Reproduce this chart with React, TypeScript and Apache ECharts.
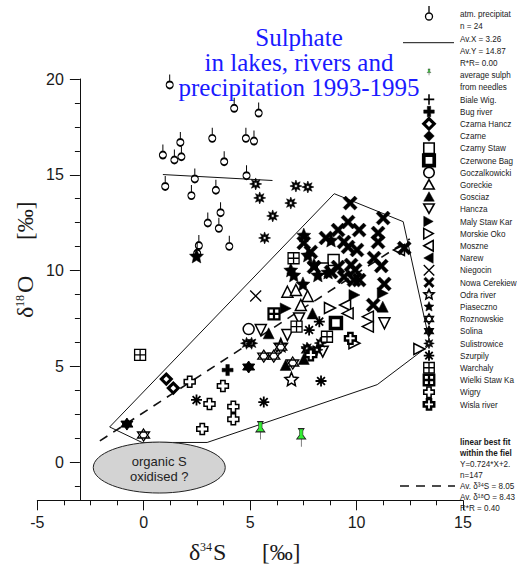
import React, { useEffect, useRef } from "react";
import * as echarts from "echarts";

// ---------------- data ----------------
const precipitation = [
  [1.22, 19.69], [4.25, 18.47], [5.4, 18.22], [1.72, 16.69], [3.22, 16.9], [4.8, 16.9],
  [5.18, 16.76], [0.9, 16.03], [1.44, 15.77], [1.77, 15.94], [3.78, 15.68], [2.4, 14.78],
  [4.83, 14.95], [1.01, 14.39], [2.24, 13.91], [3.39, 14.19], [3.61, 13.02], [3.01, 12.48],
  [3.53, 12.2], [2.59, 11.3], [4.02, 11.26], [2.51, 10.9],
];
const needles = [[5.48, 1.64], [7.4, 1.27]];
const bialeWig: number[][] = [];
const bugRiver = [[3.94, 4.8]];
const czarnaHancza = [[1.06, 4.33], [1.39, 3.86]];
const czarne: number[][] = [];
const czarnyStaw = [[8.92, 10.55], [8.41, 10.11]];
const czerwoneBagno = [[9.03, 7.26]];
const goczalkowickie = [[4.93, 6.94]];
const goreckie = [[6.75, 8.89], [7.15, 8.98], [7.7, 8.67], [7.38, 8.2]];
const gosciaz = [[5.87, 6.72], [6.67, 5.07], [7.93, 7.76], [7.52, 5.38], [11.23, 8.11]];
const hancza = [[5.5, 6.89], [6.75, 6.63], [7.3, 7.5], [8.41, 5.76], [11.31, 7.24]];
const malyStaw = [[6.67, 8.02], [9.9, 8.72], [11.23, 8.81]];
const morskieOko = [[8.75, 8.04], [12.95, 5.9], [9.9, 6.2]];
const moszne = [[9.46, 8.2], [9.58, 7.76], [10.53, 7.59], [10.53, 7.07], [11.99, 11.07]];
const narew: number[][] = [];
const niegocin = [[5.26, 8.67]];
const nowaCerekiew = [
  [9.7, 13.52], [11.25, 12.74], [9.6, 12.53], [10.12, 12.11], [11.01, 11.96], [9.13, 12.11],
  [7.52, 11.44], [8.56, 11.7], [9.41, 11.49], [10.02, 11.07], [11.01, 11.49], [10.82, 10.65],
  [11.16, 10.23], [11.3, 9.3], [9.93, 10.03], [10.12, 9.5], [10.78, 8.2], [8.8, 9.92],
  [9.13, 10.18], [9.74, 10.29], [9.6, 11.23], [7.85, 10.97], [8.0, 10.18], [9.41, 9.66],
  [9.88, 9.5], [12.24, 11.17],
];
const odraRiver = [[6.94, 4.33], [6.44, 6.11]];
const piaseczno = [
  [7.52, 11.85], [7.71, 10.81], [6.91, 10.03], [7.05, 9.77], [8.18, 9.77], [8.66, 9.92],
  [7.48, 9.3], [8.0, 10.29], [8.8, 11.59], [2.48, 10.76],
];
const roznowskie = [[5.64, 5.53], [6.11, 5.53], [6.44, 6.0], [7.0, 5.17], [7.71, 5.85], [-0.01, 1.41]];
const solina = [[4.93, 4.96], [-0.79, 1.98]];
const sulistrowice = [
  [5.26, 14.52], [5.45, 13.79], [7.15, 14.41], [7.71, 14.36], [6.91, 13.52], [6.06, 12.85],
  [5.68, 11.7], [4.83, 6.2], [5.07, 6.2], [8.14, 5.86], [8.3, 6.21], [7.67, 5.95],
];
const szurpily = [[2.48, 3.24], [5.64, 3.13], [8.33, 4.23], [8.25, 7.33], [7.77, 6.89]];
const warchaly = [[-0.17, 5.59], [7.04, 10.64], [7.18, 7.07], [8.61, 6.54]];
const wielkiStaw = [[6.12, 7.73]];
const wigry = [[2.16, 4.19], [3.72, 3.97], [3.09, 3.03], [4.21, 2.89], [4.21, 2.23], [2.75, 1.72]];
const wislaRiver = [[9.71, 6.46], [7.85, 5.59]];

const fieldPolygon = [
  [-1.6, 1.83], [8.95, 14.01], [12.19, 12.55], [13.46, 6.13], [10.97, 4.04],
  [2.98, 1.02], [-0.08, 1.02], [-1.6, 1.83],
];
const precipFit = [[0.9, 15.01], [6.05, 14.7]];
const fieldFit = [[-2.06, 1.1], [12.5, 11.65]];
const ellipseCenter = [[0.73, -0.29]];

const xLabelValues = [-5, 0, 5, 10, 15];
const yLabelValues = [0, 5, 10, 15, 20];
const yMinorValues = [-1.25, 1.25, 2.5, 3.75, 6.25, 7.5, 8.75, 11.25, 12.5, 13.75, 16.25, 17.5, 18.75];

// texts as far as they are visible in the reference (it cuts them at the right edge)
const precipLabel = "atm. precipitat";
const precipStats = ["n = 24", "Av.X = 3.26", "Av.Y = 14.87", "R*R= 0.00"];
const needleLabels = ["average sulph", "from needles"];
const fitHeader = ["linear best fit", "within the fiel"];
const fitStats = ["Y=0.724*X+2.", "n=147", "Av. δ³⁴S = 8.05", "Av. δ¹⁸O = 8.43", "R*R = 0.40"];

// ---------------- symbols ----------------
const SHAPES: Record<string, string> = {
  lolli: "M3.5,0 L3.5,7 M0,10.5 A3.5,3.5 0 1,0 7,10.5 A3.5,3.5 0 1,0 0,10.5 Z",
  pin: "M2.5,0 L7.5,0 L6.5,1.5 L6.5,5 L9,8 L1,8 L3.5,5 L3.5,1.5 Z M5,8 L5,14",
  plusThin: "M5,0 L5,10 M0,5 L10,5",
  plusThick: "M3.4,0 L6.6,0 L6.6,3.4 L10,3.4 L10,6.6 L6.6,6.6 L6.6,10 L3.4,10 L3.4,6.6 L0,6.6 L0,3.4 L3.4,3.4 Z",
  diamond: "M5,0 L10,5 L5,10 L0,5 Z",
  square: "M0,0 L10,0 L10,10 L0,10 Z",
  circle: "M0,5 A5,5 0 1,1 10,5 A5,5 0 1,1 0,5 Z",
  triUp: "M5,0 L10,9 L0,9 Z",
  triDown: "M0,0 L10,0 L5,9 Z",
  triRight: "M0,0 L9,5 L0,10 Z",
  triLeft: "M9,0 L0,5 L9,10 Z",
  xThin: "M0,0 L10,10 M10,0 L0,10",
  xThick: "M0,1.8 L1.8,0 L5,3.2 L8.2,0 L10,1.8 L6.8,5 L10,8.2 L8.2,10 L5,6.8 L1.8,10 L0,8.2 L3.2,5 Z",
  star: "M5,0 L6.35,3.15 L9.76,3.45 L7.2,5.75 L7.94,9.05 L5,7.35 L2.06,9.05 L2.8,5.75 L0.24,3.45 L3.65,3.15 Z",
  hexagram: "M5,0 L9.33,7.5 L0.67,7.5 Z M5,10 L0.67,2.5 L9.33,2.5 Z",
  burst:
    "M5,0 L5.96,2.69 L8.54,1.46 L7.31,4.04 L10,5 L7.31,5.96 L8.54,8.54 L5.96,7.31 L5,10 L4.04,7.31 L1.46,8.54 L2.69,5.96 L0,5 L2.69,4.04 L1.46,1.46 L4.04,2.69 Z M3.9,3.9 L3.9,6.1 L6.1,6.1 L6.1,3.9 Z",
  asterisk: "M5,0 L5,10 M0,5 L10,5 M1.46,1.46 L8.54,8.54 M8.54,1.46 L1.46,8.54",
  grid: "M0,0 L10,0 L10,10 L0,10 Z M5,0 L5,10 M0,5 L10,5",
  crossOpen: "M3,0 L7,0 L7,3 L10,3 L10,7 L7,7 L7,10 L3,10 L3,7 L0,7 L0,3 L3,3 Z",
};

Object.keys(SHAPES).forEach((k) => {
  echarts.graphic.registerShape("sym_" + k, echarts.graphic.extendPath(SHAPES[k], {}) as any);
});

const W = "#ffffff";
const B = "#000000";
const N = "none";

const LAKES: { name: string; label: string; shape: string; fill: string; lw: number; size: number; data: number[][] }[] = [
  { name: "Biale Wig.", label: "Biale Wig.", shape: "plusThin", fill: N, lw: 1.5, size: 11, data: bialeWig },
  { name: "Bug river", label: "Bug river", shape: "plusThick", fill: B, lw: 0.5, size: 11, data: bugRiver },
  { name: "Czarna Hancza", label: "Czarna Hancz", shape: "diamond", fill: W, lw: 3, size: 10, data: czarnaHancza },
  { name: "Czarne", label: "Czarne", shape: "diamond", fill: B, lw: 0.5, size: 11, data: czarne },
  { name: "Czarny Staw", label: "Czarny Staw", shape: "square", fill: W, lw: 1.5, size: 11, data: czarnyStaw },
  { name: "Czerwone Bagno", label: "Czerwone Bag", shape: "square", fill: W, lw: 3.5, size: 11, data: czerwoneBagno },
  { name: "Goczalkowickie", label: "Goczalkowicki", shape: "circle", fill: W, lw: 1.5, size: 11, data: goczalkowickie },
  { name: "Goreckie", label: "Goreckie", shape: "triUp", fill: W, lw: 1.5, size: 11, data: goreckie },
  { name: "Gosciaz", label: "Gosciaz", shape: "triUp", fill: B, lw: 0.5, size: 11, data: gosciaz },
  { name: "Hancza", label: "Hancza", shape: "triDown", fill: W, lw: 1.5, size: 11, data: hancza },
  { name: "Maly Staw Karkonoski", label: "Maly Staw Kar", shape: "triRight", fill: B, lw: 0.5, size: 11, data: malyStaw },
  { name: "Morskie Oko", label: "Morskie Oko", shape: "triRight", fill: W, lw: 1.5, size: 11, data: morskieOko },
  { name: "Moszne", label: "Moszne", shape: "triLeft", fill: W, lw: 1.5, size: 11, data: moszne },
  { name: "Narew", label: "Narew", shape: "triLeft", fill: B, lw: 0.5, size: 11, data: narew },
  { name: "Niegocin", label: "Niegocin", shape: "xThin", fill: N, lw: 1.3, size: 11, data: niegocin },
  { name: "Nowa Cerekiew", label: "Nowa Cerekiew", shape: "xThick", fill: B, lw: 0.5, size: 14, data: nowaCerekiew },
  { name: "Odra river", label: "Odra river", shape: "star", fill: W, lw: 1.5, size: 13, data: odraRiver },
  { name: "Piaseczno", label: "Piaseczno", shape: "star", fill: B, lw: 0.5, size: 14, data: piaseczno },
  { name: "Roznowskie", label: "Roznowskie", shape: "hexagram", fill: W, lw: 1.3, size: 12, data: roznowskie },
  { name: "Solina", label: "Solina", shape: "hexagram", fill: B, lw: 1, size: 12, data: solina },
  { name: "Sulistrowice", label: "Sulistrowice", shape: "burst", fill: B, lw: 0.6, size: 12, data: sulistrowice },
  { name: "Szurpily", label: "Szurpily", shape: "asterisk", fill: N, lw: 1.8, size: 11, data: szurpily },
  { name: "Warchaly", label: "Warchaly", shape: "grid", fill: W, lw: 1.3, size: 11, data: warchaly },
  { name: "Wielki Staw Karkonoski", label: "Wielki Staw Ka", shape: "grid", fill: W, lw: 2.2, size: 11, data: wielkiStaw },
  { name: "Wigry", label: "Wigry", shape: "crossOpen", fill: W, lw: 1.5, size: 11, data: wigry },
  { name: "Wisla river", label: "Wisla river", shape: "crossOpen", fill: W, lw: 2.3, size: 11, data: wislaRiver },
];

const SANS = "'Liberation Sans', Arial, sans-serif";
const SERIF = "'Liberation Serif', 'Times New Roman', serif";
const TXT = "#1a1a1a";

function buildOption() {
  const series: any[] = [];

  series.push({
    type: "line",
    data: fieldPolygon,
    symbol: "none",
    lineStyle: { color: "#111", width: 1 },
    silent: true,
    z: 1,
  });
  series.push({
    type: "line",
    data: fieldFit,
    symbol: "none",
    lineStyle: { color: "#111", width: 1.6, type: [9, 7] },
    silent: true,
    z: 1,
  });
  series.push({
    type: "line",
    data: precipFit,
    symbol: "none",
    lineStyle: { color: "#111", width: 1 },
    silent: true,
    z: 1,
  });
  series.push({
    type: "custom",
    data: ellipseCenter,
    silent: true,
    z: 2,
    renderItem: (params: any, api: any) => {
      const c = api.coord([api.value(0), api.value(1)]);
      const s = api.size([3.1, 1.33]);
      return {
        type: "group",
        children: [
          {
            type: "ellipse",
            shape: { cx: c[0], cy: c[1], rx: s[0], ry: s[1] },
            style: { fill: "#d3d3d3", stroke: "#222", lineWidth: 1 },
          },
          {
            type: "text",
            x: c[0],
            y: c[1] + 1,
            style: {
              text: "organic S\noxidised ?",
              align: "center",
              verticalAlign: "middle",
              fontSize: 13,
              lineHeight: 15,
              fontFamily: SANS,
              fill: "#222",
            },
          },
        ],
      };
    },
  });

  series.push({
    type: "scatter",
    name: "atm. precipitation",
    data: precipitation,
    symbol: "path://" + SHAPES.lolli,
    symbolSize: [7, 14],
    symbolOffset: [0, -3.5],
    itemStyle: { color: W, borderColor: B, borderWidth: 1.4, opacity: 1 },
    silent: true,
    z: 3,
  });
  series.push({
    type: "scatter",
    name: "average sulphate from needles",
    data: needles,
    symbol: "path://" + SHAPES.pin,
    symbolSize: [9, 18],
    itemStyle: { color: "#33ee33", borderColor: "#222", borderWidth: 0.8, opacity: 1 },
    silent: true,
    z: 3,
  });

  LAKES.forEach((l) => {
    series.push({
      type: "scatter",
      name: l.name,
      data: l.data,
      symbol: "path://" + SHAPES[l.shape],
      symbolSize: l.size,
      itemStyle: {
        color: l.fill === N ? "rgba(0,0,0,0)" : l.fill,
        borderColor: B,
        borderWidth: l.lw,
        opacity: 1,
      },
      silent: true,
      z: 4,
    });
  });

  // ---------- graphic: titles and legend ----------
  const g: any[] = [];
  g.push({
    type: "text",
    x: 299,
    y: 25,
    style: {
      text: "Sulphate\nin lakes, rivers and\nprecipitation 1993-1995",
      align: "center",
      verticalAlign: "top",
      fontSize: 25,
      lineHeight: 25,
      fontFamily: SERIF,
      fill: "#1a1aff",
    },
  });

  // x axis title
  const xt = [
    { t: "δ", x: 189, y: 552, fs: 24 },
    { t: "34", x: 200, y: 547, fs: 12 },
    { t: "S", x: 213, y: 552, fs: 24 },
    { t: "[‰]", x: 262, y: 552, fs: 23 },
  ];
  xt.forEach((e) =>
    g.push({
      type: "text",
      x: e.x,
      y: e.y,
      style: { text: e.t, fontSize: e.fs, fontFamily: SERIF, fill: TXT, align: "left", verticalAlign: "middle" },
    })
  );
  // y axis title (rotated)
  g.push({
    type: "group",
    x: 25,
    y: 318,
    rotation: Math.PI / 2,
    children: [
      { t: "δ", x: 0, y: 0, fs: 24 },
      { t: "18", x: 11, y: -5, fs: 12 },
      { t: "O", x: 25, y: 0, fs: 24 },
      { t: "[‰]", x: 78, y: 0, fs: 23 },
    ].map((e) => ({
      type: "text",
      x: e.x,
      y: e.y,
      style: { text: e.t, fontSize: e.fs, fontFamily: SERIF, fill: TXT, align: "left", verticalAlign: "middle" },
    })),
  });

  const LX = 429;
  const TX = 460;
  const rowY = (i: number) => 14 + i * 12.2;
  const legendText = (t: string, y: number, bold = false) => ({
    type: "text",
    x: TX,
    y,
    scaleX: 0.9,
    style: {
      text: t,
      fontSize: 9,
      fontWeight: bold ? "bold" : "normal",
      fontFamily: SANS,
      fill: TXT,
      align: "left",
      verticalAlign: "middle",
    },
  });

  // precipitation entry
  g.push({
    type: "sym_lolli",
    x: LX - 3.5,
    y: 16.5 - 10.5,
    style: { fill: W, stroke: B, lineWidth: 1.3 },
  });
  g.push(legendText(precipLabel, rowY(0)));
  precipStats.forEach((t, i) => g.push(legendText(t, rowY(1 + i))));
  g.push({ type: "line", shape: { x1: 403, y1: 42.7, x2: 454, y2: 42.7 }, style: { stroke: "#111", lineWidth: 1 } });
  // needles entry
  g.push({
    type: "sym_pin",
    x: LX - 2.2,
    y: 69,
    scaleX: 0.45,
    scaleY: 0.45,
    style: { fill: "#33ee33", stroke: "#222", lineWidth: 1 },
  });
  g.push(legendText(needleLabels[0], rowY(5)));
  g.push(legendText(needleLabels[1], rowY(6)));

  LAKES.forEach((l, i) => {
    const y = rowY(7 + i);
    const s = 1.05;
    g.push({
      type: "sym_" + l.shape,
      x: LX - 5 * s,
      y: y - 5 * s,
      scaleX: s,
      scaleY: s,
      style: { fill: l.fill, stroke: B, lineWidth: l.lw },
    });
    g.push(legendText(l.label, y));
  });

  // fit legend block
  const fy = (i: number) => 442 + i * 10.9;
  g.push(legendText(fitHeader[0], fy(0), true));
  g.push(legendText(fitHeader[1], fy(1), true));
  fitStats.forEach((t, i) => g.push(legendText(t, fy(2 + i))));
  g.push({
    type: "line",
    shape: { x1: 400, y1: 486, x2: 455, y2: 486 },
    style: { stroke: "#111", lineWidth: 1.6, lineDash: [9, 7] },
  });

  return {
    animation: false,
    backgroundColor: "#ffffff",
    grid: { left: 37.3, right: 54, top: 79, bottom: 64.7, containLabel: false, outerBoundsMode: "none" },
    xAxis: {
      type: "value",
      min: -5,
      max: 15,
      interval: 5,
      axisLine: { show: true, onZero: false, lineStyle: { color: "#111", width: 1 } },
      axisTick: { show: true, length: 10, lineStyle: { color: "#111", width: 1 } },
      minorTick: { show: true, splitNumber: 4, length: 5, lineStyle: { color: "#111", width: 1 } },
      axisLabel: {
        show: true,
        customValues: xLabelValues,
        margin: 14,
        fontSize: 16,
        fontFamily: SANS,
        color: TXT,
      },
      splitLine: { show: false },
      minorSplitLine: { show: false },
    },
    yAxis: [
      {
        type: "value",
        min: -2,
        max: 20,
        position: "left",
        offset: -42.6,
        axisLine: { show: true, onZero: false, lineStyle: { color: "#111", width: 1 } },
        axisTick: { show: true, customValues: yLabelValues, length: 10, lineStyle: { color: "#111", width: 1 } },
        axisLabel: {
          show: true,
          customValues: yLabelValues,
          margin: 16,
          fontSize: 16,
          fontFamily: SANS,
          color: TXT,
        },
        splitLine: { show: false },
      },
      {
        type: "value",
        min: -2,
        max: 20,
        position: "left",
        offset: -42.6,
        axisLine: { show: false, onZero: false },
        axisTick: { show: true, customValues: yMinorValues, length: 5, lineStyle: { color: "#111", width: 1 } },
        axisLabel: { show: false },
        splitLine: { show: false },
      },
    ],
    series,
    graphic: g,
  };
}

export default function App() {
  const ref = useRef<HTMLDivElement>(null);
  useEffect(() => {
    if (!ref.current) return;
    const chart = echarts.init(ref.current, undefined, { renderer: "svg" });
    chart.setOption(buildOption() as any);
    return () => chart.dispose();
  }, []);
  return (
    <div
      ref={ref}
      style={{ position: "absolute", left: 0, top: 0, width: 517, height: 565, background: "#fff" }}
    />
  );
}
